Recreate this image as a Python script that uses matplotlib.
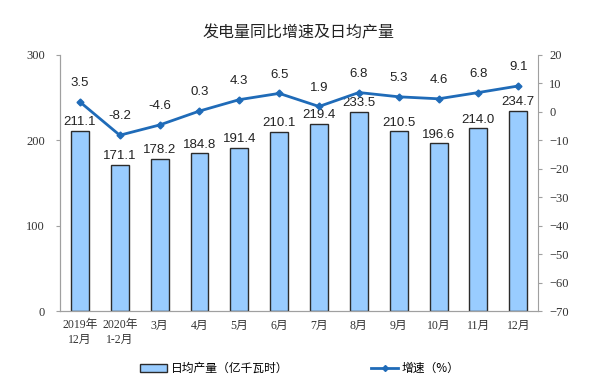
import matplotlib.pyplot as plt
from matplotlib.lines import Line2D
from matplotlib.patches import Patch
import numpy as np

plt.rcParams['font.family'] = ['Noto Sans CJK SC', 'DejaVu Sans']

# categories and values
months = ["2019年\n12月", "2020年\n1-2月", "3月", "4月", "5月", "6月",
          "7月", "8月", "9月", "10月", "11月", "12月"]
daily_output = [211.1, 171.1, 178.2, 184.8, 191.4, 210.1,
                219.4, 233.5, 210.5, 196.6, 214.0, 234.7]
growth = [3.5, -8.2, -4.6, 0.3, 4.3, 6.5, 1.9, 6.8, 5.3, 4.6, 6.8, 9.1]

bar_color = "#99CCFF"
line_color = "#1F6BB8"
axis_color = "#A0A0A0"
serif = ["Liberation Serif", "Noto Sans CJK SC"]
sans = ["Liberation Sans", "DejaVu Sans"]

fig = plt.figure(figsize=(6, 3.87), dpi=100)
ax = fig.add_axes([0.1, 0.196, 0.797, 0.662])
ax2 = ax.twinx()

x = np.arange(len(months))
ax.bar(x, daily_output, width=0.45, color=bar_color, edgecolor="#2B2B2B",
       linewidth=1.0, zorder=2)
for xi, v in zip(x, daily_output):
    ax.text(xi, v + 3, f"{v:.1f}", ha="center", va="bottom", fontsize=9.5,
            family=sans, color="#222222")

ax.set_ylim(0, 300)
ax.set_yticks([0, 100, 200, 300])
ax.set_xlim(-0.5, len(months) - 0.5)
ax.set_xticks(x)
ax.set_xticklabels(months, fontsize=8.5, family=serif, color="#333333",
                   linespacing=1.25)
ax.tick_params(axis="x", length=0, pad=6)
ax.tick_params(axis="y", labelsize=9, colors="#333333", length=3,
               color=axis_color, pad=8)
for lab in ax.get_yticklabels():
    lab.set_family(serif)

ax2.plot(x, growth, color=line_color, linewidth=2.0, marker="D",
         markersize=3.5, zorder=3)
for xi, v in zip(x, growth):
    ax2.text(xi, v + 4.5, f"{v:.1f}", ha="center", va="bottom", fontsize=9.5,
             family=sans, color="#222222")
ax2.set_ylim(-70, 20)
ax2.set_yticks(range(-70, 21, 10))
ax2.tick_params(axis="y", labelsize=9, colors="#333333", length=3,
                color=axis_color, pad=5)
for lab in ax2.get_yticklabels():
    lab.set_family(serif)

for a in (ax, ax2):
    a.spines["top"].set_visible(False)
    for s in ("left", "right", "bottom"):
        a.spines[s].set_color(axis_color)
ax.spines["right"].set_visible(False)

fig.text(0.497, 0.915, "发电量同比增速及日均产量", ha="center", va="center",
         fontsize=11.5, color="#222222")

handles = [Patch(facecolor=bar_color, edgecolor="#2B2B2B", linewidth=1.0),
           Line2D([0], [0], color=line_color, linewidth=2, marker="D", markersize=3)]
fig.legend(handles, ["日均产量（亿千瓦时）", "增速（%）"], loc="center",
           bbox_to_anchor=(0.5, 0.047), ncol=2, frameon=False, fontsize=8.5,
           columnspacing=7, handlelength=2.3, handleheight=0.6, handletextpad=0.3)

fig.savefig("out.png", dpi=100)
